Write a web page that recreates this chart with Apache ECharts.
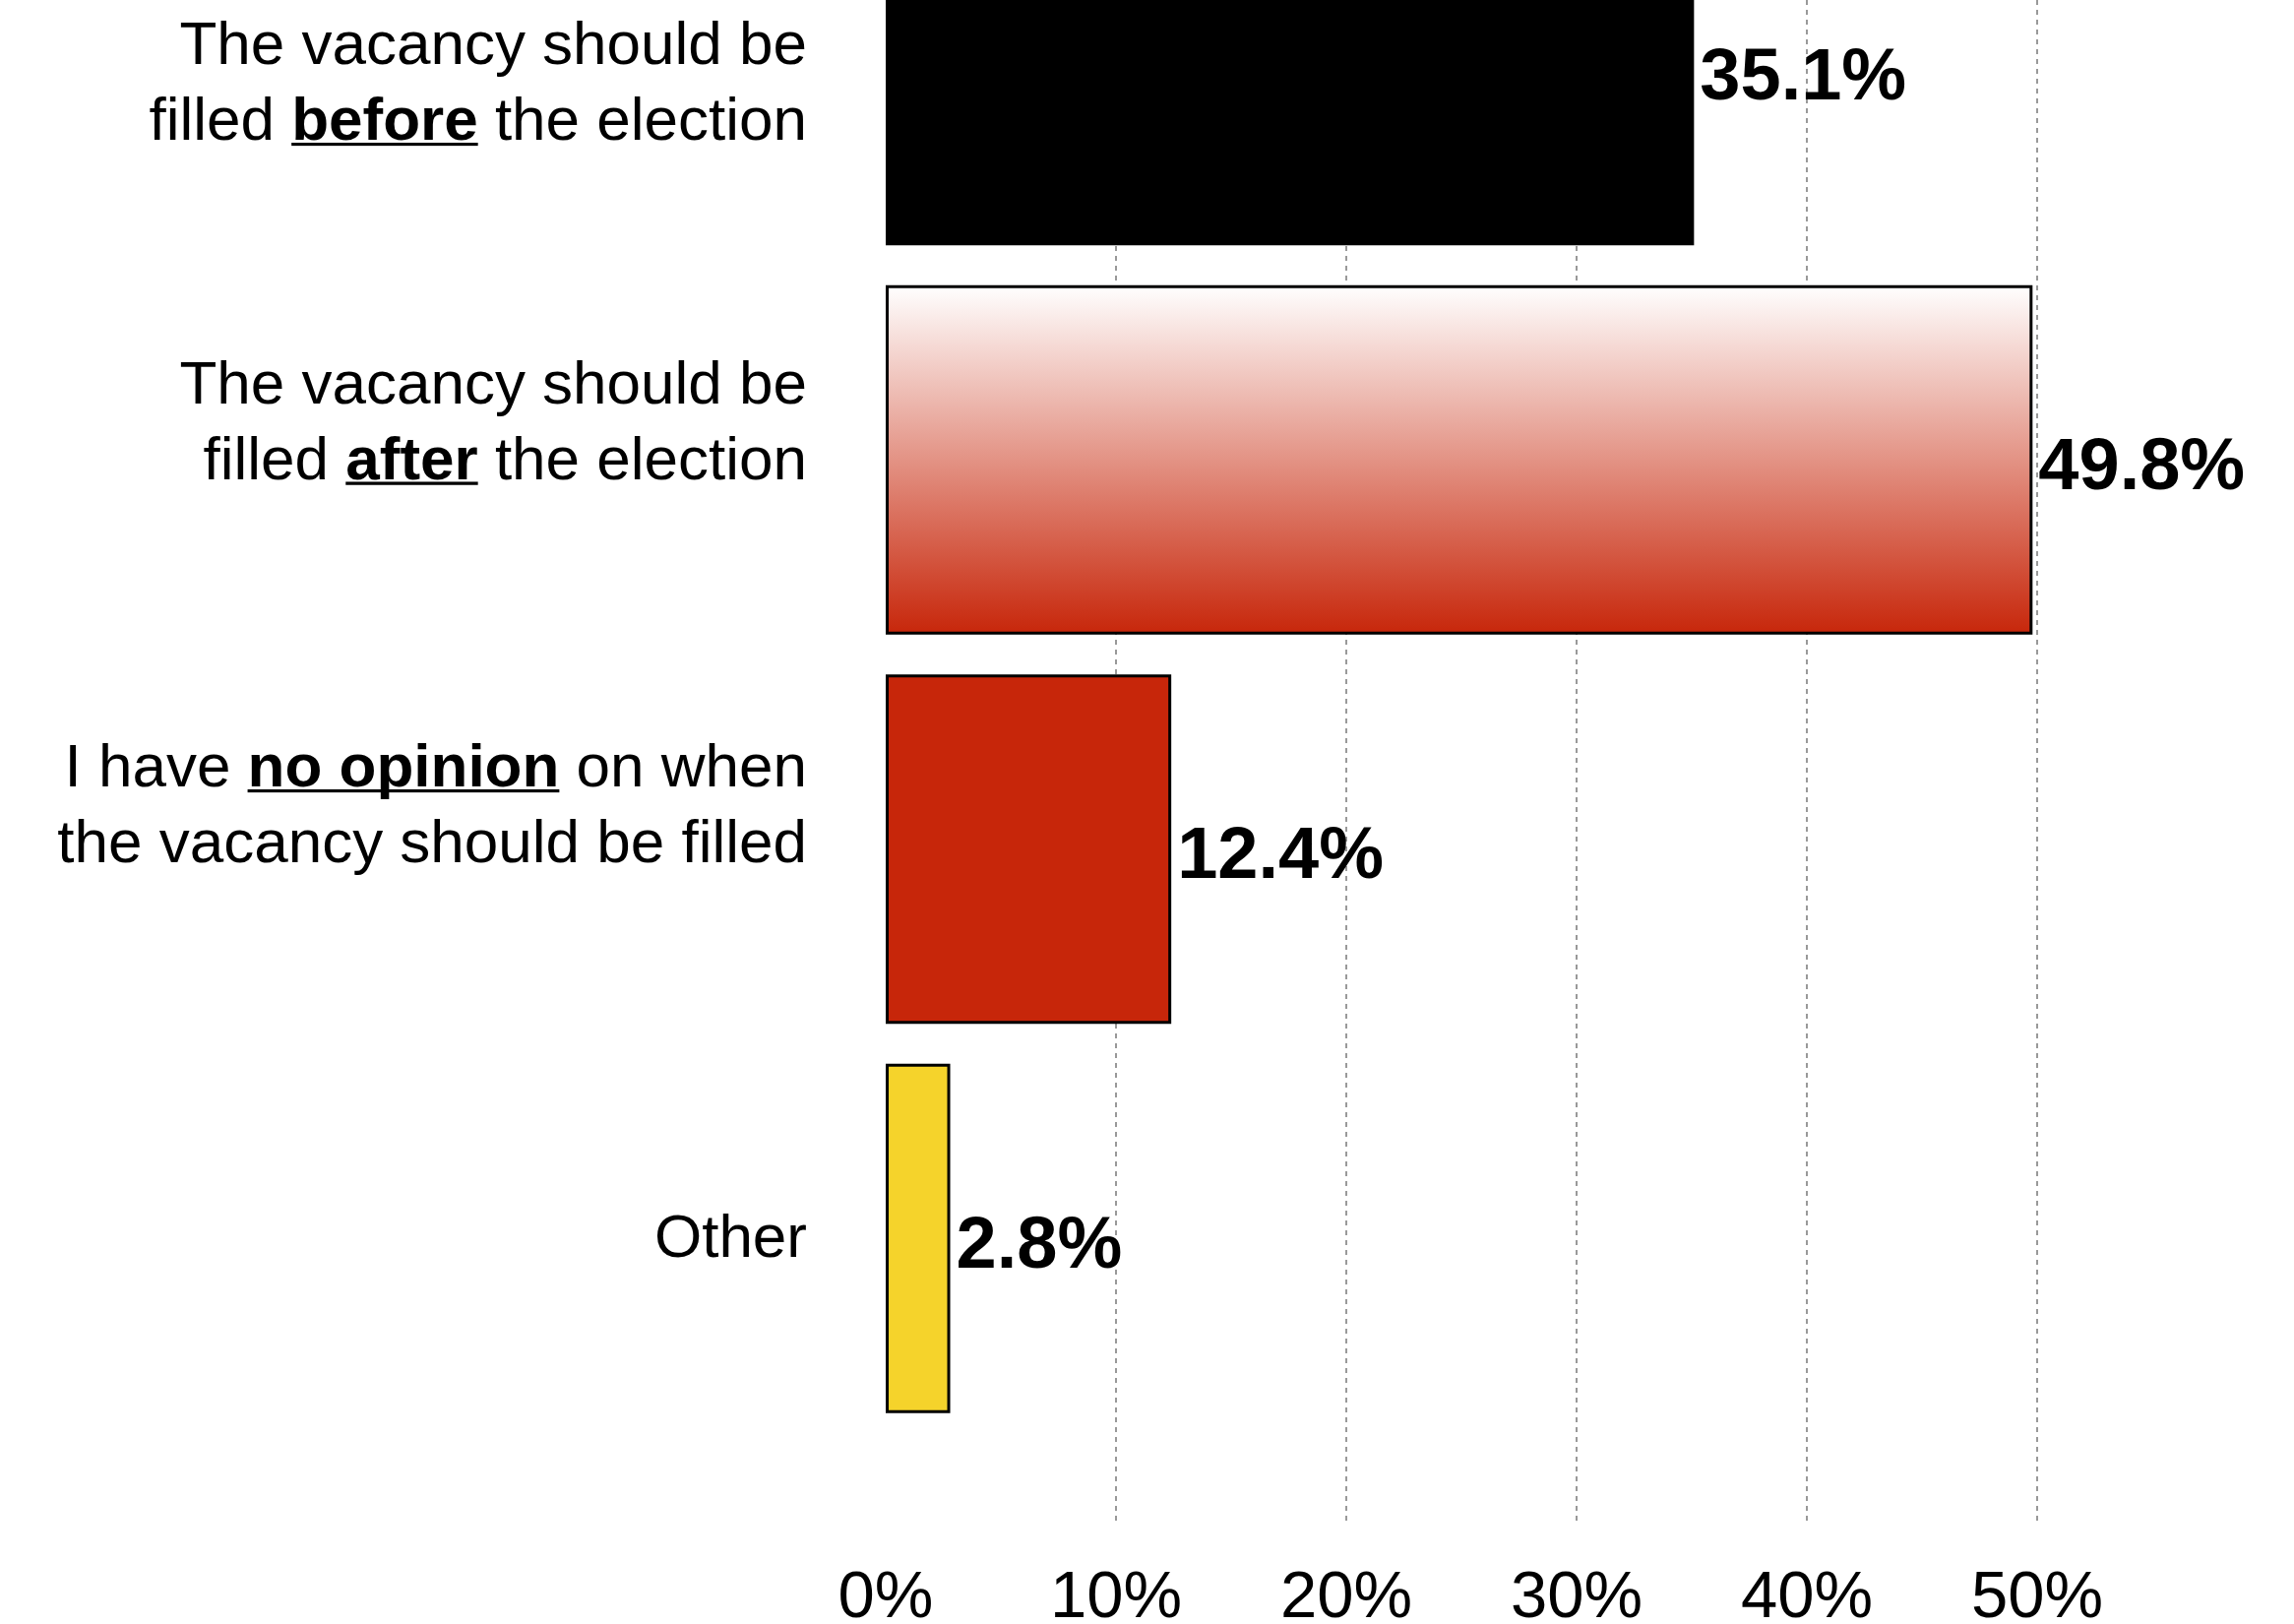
<!DOCTYPE html>
<html>
<head>
<meta charset="utf-8">
<script src="https://cdn.jsdelivr.net/npm/echarts@6/dist/echarts.min.js"></script>
<style>
html,body{margin:0;padding:0;background:#fff;}
#chart{width:2331px;height:1650px;}
</style>
</head>
<body>
<div id="chart"></div>
<script>
// ---- data ----
const categories = [
  'The vacancy should be\nfilled _before_ the election',
  'The vacancy should be\nfilled _after_ the election',
  'I have _no opinion_ on when\nthe vacancy should be filled',
  'Other'
];
const values = [35.1, 49.8, 12.4, 2.8];
const tickLabels = ['0%', '10%', '20%', '30%', '40%', '50%'];

// ---- styling ----
const FONT = "'Liberation Sans', Arial, Helvetica, sans-serif";
const LABEL_SIZE = 62, LABEL_LH = 77;

// underline image for rich text segments
const ul = document.createElement('canvas');
ul.width = 4; ul.height = LABEL_LH;
(function(){
  const c = ul.getContext('2d');
  c.fillStyle = '#000';
  c.fillRect(0, 63, 4, 4);
})();

function toRich(s){
  return s.split('_').map((p, i) => (i % 2 === 1 ? '{u|' + p + '}' : (p ? '{n|' + p.replace(/\n/g, '}\n{n|') + '}' : ''))).join('').replace(/\{n\|\}/g, '');
}

const barColors = [
  '#000000',
  new echarts.graphic.LinearGradient(0, 0, 0, 1, [
    {offset: 0, color: '#ffffff'},
    {offset: 1, color: '#c7260a'}
  ]),
  '#c7260a',
  '#f5d32b'
];
const barBorders = [0, 3, 3, 3];
const labelPads = [[30, 0, 0, 0], [0, 0, 72, 0], [0, 0, 84, 0], [4, 0, 0, 0]];

const chart = echarts.init(document.getElementById('chart'), null, {renderer: 'canvas'});
chart.setOption({
  backgroundColor: '#ffffff',
  animation: false,
  grid: [
    {left: 900, right: 261, top: -126, height: 1582, containLabel: false, outerBoundsMode: 'none'},
    {left: 900, right: 261, top: 0, bottom: 105, containLabel: false, outerBoundsMode: 'none'}
  ],
  xAxis: [
    {type: 'value', gridIndex: 0, min: 0, max: 50, interval: 10, show: false},
    {
      type: 'value', gridIndex: 1, min: 0, max: 50, interval: 10,
      axisLine: {show: false}, axisTick: {show: false},
      axisLabel: {
        formatter: (v) => tickLabels[Math.round(v / 10)] || '',
        fontFamily: FONT, fontSize: 67, color: '#000', margin: 46
      },
      splitLine: {
        show: true, showMinLine: false,
        lineStyle: {color: '#999999', width: 2, type: [5, 5]}
      }
    }
  ],
  yAxis: [
    {
      type: 'category', gridIndex: 0, inverse: true,
      data: categories.map((c, i) => ({value: c, textStyle: {padding: labelPads[i]}})),
      axisLine: {show: false}, axisTick: {show: false},
      axisLabel: {
        margin: 80, align: 'right',
        formatter: (v) => toRich(v),
        fontFamily: FONT, fontSize: LABEL_SIZE, lineHeight: LABEL_LH, color: '#000',
        rich: {
          n: {fontFamily: FONT, fontSize: LABEL_SIZE, lineHeight: LABEL_LH, color: '#000'},
          u: {fontFamily: FONT, fontSize: LABEL_SIZE, lineHeight: LABEL_LH, color: '#000',
              fontWeight: 'bold', backgroundColor: {image: ul}}
        }
      },
      splitLine: {show: false}
    },
    {type: 'value', gridIndex: 1, show: false, min: 0, max: 1}
  ],
  series: [{
    type: 'bar',
    xAxisIndex: 0, yAxisIndex: 0,
    barCategoryGap: '10.2%',
    data: values.map((v, i) => ({
      value: v,
      itemStyle: {color: barColors[i], borderColor: '#000', borderWidth: barBorders[i]}
    })),
    label: {
      show: true, position: 'right', distance: 6, offset: [0, 9],
      formatter: (p) => p.value.toFixed(1) + '%',
      fontFamily: FONT, fontSize: 74, fontWeight: 'bold', color: '#000'
    }
  }]
});
</script>
</body>
</html>
